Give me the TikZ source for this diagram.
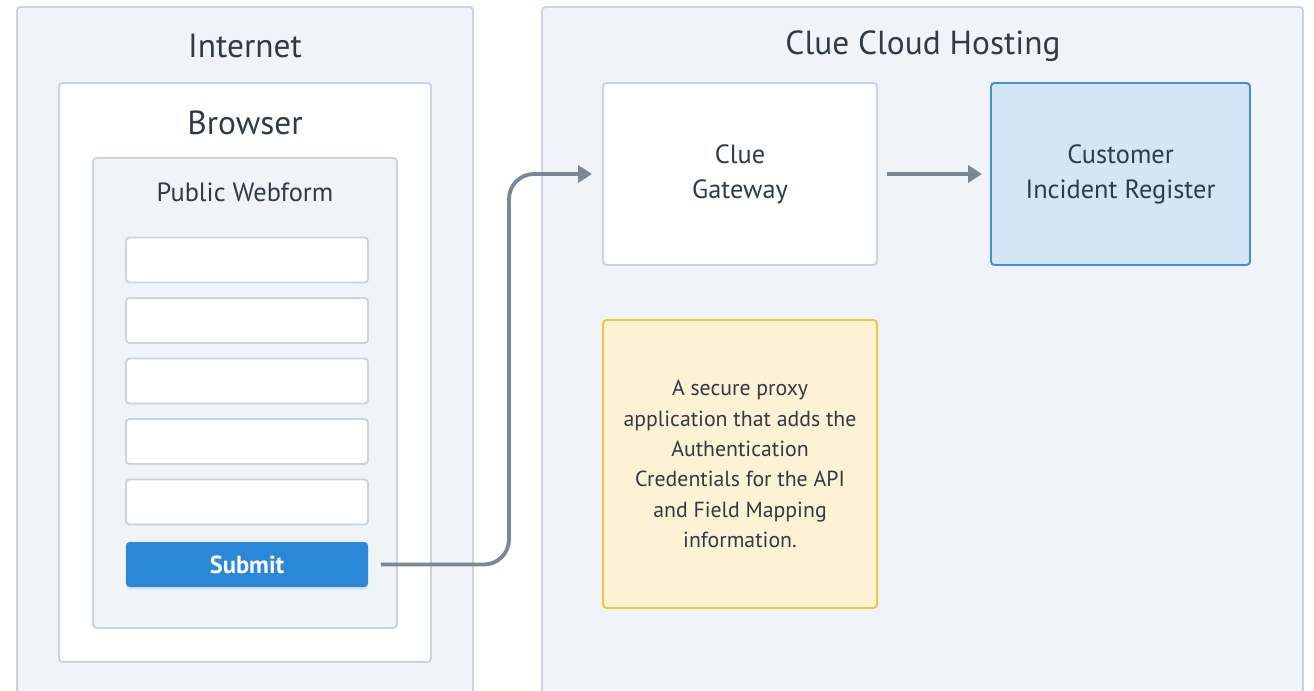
\documentclass[tikz,border=0pt]{standalone}
\usepackage{fontspec}
\setmainfont{PT Sans}
\usetikzlibrary{arrows.meta,shadows}
\definecolor{zoneFill}{HTML}{F0F4F8}
\definecolor{zoneLine}{HTML}{CBD4DE}
\definecolor{inkText}{HTML}{2F3B47}
\definecolor{linkGray}{HTML}{7A8794}
\definecolor{btnBlue}{HTML}{2B88D8}
\definecolor{regFill}{HTML}{D4E6F6}
\definecolor{regLine}{HTML}{3C90DD}
\definecolor{noteFill}{HTML}{FDF2D4}
\definecolor{noteLine}{HTML}{F6C344}
\tikzset{
  zone/.style={draw=zoneLine, fill=zoneFill, line width=1.1pt, rounded corners=2pt},
  panel/.style={zone, fill=white},
  field/.style={panel, minimum width=4.84cm, minimum height=0.9cm},
  title/.style={text=inkText, font=\fontsize{19}{22}\selectfont},
  label/.style={text=inkText, align=center, font=\fontsize{15}{20}\selectfont},
  link/.style={draw=linkGray, line width=2.2pt, rounded corners=0.5cm,
    -{Triangle[length=0.28cm, width=0.34cm]}}
}
\begin{document}
\begin{tikzpicture}
  \useasboundingbox (0,0) rectangle (26.28,-13.8);
  % internet side
  \node[zone, minimum width=9.12cm, minimum height=13.86cm] (internet) at (4.9,-7.07) {};
  \node[title] (internetT) at (4.9,-0.93) {Internet};
  \node[panel, minimum width=7.44cm, minimum height=11.58cm] (browser) at (4.9,-7.45) {};
  \node[title] (browserT) at (4.9,-2.45) {Browser};
  \node[zone, minimum width=6.08cm, minimum height=9.4cm] (webform) at (4.9,-7.86) {};
  \node[label] (webformT) at (4.9,-3.85) {Public Webform};
  \foreach \i in {1,...,5}
    \node[field] (field\i) at (4.94,{-5.2-1.21*(\i-1)}) {};
  \node[field, draw=none, fill=btnBlue, text=white,
    font=\fontsize{14}{17}\selectfont\bfseries,
    drop shadow={opacity=0.15, shadow xshift=0pt, shadow yshift=-1.5pt}]
    (submit) at (4.94,-11.29) {Submit};
  % cloud side
  \node[zone, minimum width=15.22cm, minimum height=13.86cm] (cloud) at (18.45,-7.07) {};
  \node[title] (cloudT) at (18.46,-0.93) {Clue Cloud Hosting};
  \node[panel, minimum width=5.48cm, minimum height=3.64cm, label] (gateway) at (14.8,-3.48)
    {\raisebox{-2pt}{Clue}\\\raisebox{-2pt}{Gateway}};
  \node[zone, draw=regLine, fill=regFill, minimum width=5.18cm, minimum height=3.64cm, label]
    (register) at (22.41,-3.48) {\raisebox{-2pt}{Customer}\\\raisebox{-2pt}{Incident Register}};
  \node[zone, draw=noteLine, fill=noteFill, minimum width=5.48cm, minimum height=5.76cm,
    label, font=\fontsize{12.4}{17.3}\selectfont] (note) at (14.8,-9.28)
    {A secure proxy\\application that adds the\\Authentication\\Credentials for the API\\and Field Mapping\\information.};
  % arrows
  \draw[link] ([xshift=0.24cm]submit.east) -- ++(2.56,0) |- ([xshift=-0.2cm]gateway.west);
  \draw[link] ([xshift=0.18cm]gateway.east) -- ([xshift=-0.16cm]register.west);
\end{tikzpicture}
\end{document}
